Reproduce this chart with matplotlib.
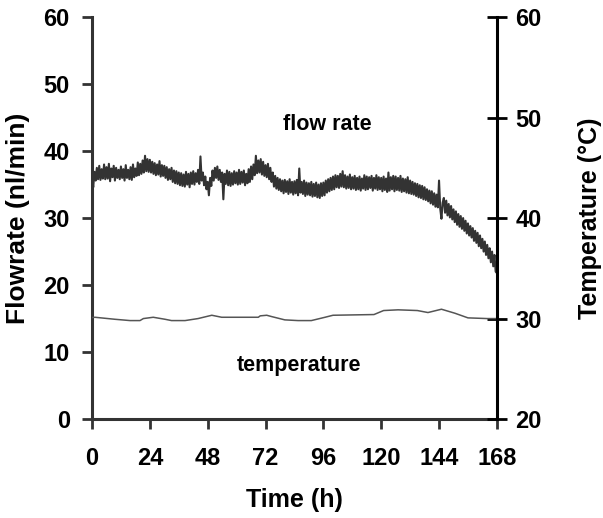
import numpy as np
import matplotlib

matplotlib.use("Agg")
import matplotlib.pyplot as plt

plt.rcParams["font.family"] = ["Liberation Sans", "DejaVu Sans"]
plt.rcParams["font.weight"] = "bold"

# flow rate (nl/min), one reading every 0.5 h from 0 to 168 h
FLOW = [
    36.2, 34.6, 36.9, 35.6, 37.5, 35.8, 37.8, 35.7, 37.3, 35.9, 38.0, 35.8,
    37.6, 35.9, 38.1, 35.5, 37.4, 36.1, 37.8, 35.6, 37.5, 36.0, 37.2, 35.8,
    37.7, 36.0, 37.3, 35.6, 37.9, 36.0, 37.2, 35.8, 37.6, 35.7, 38.0, 36.1,
    37.4, 36.3, 38.3, 36.4, 38.1, 36.6, 38.6, 36.8, 39.3, 37.0, 38.8, 36.9,
    38.7, 36.8, 38.4, 36.6, 38.2, 36.4, 38.0, 36.5, 38.5, 36.2, 37.9, 36.3,
    37.8, 36.0, 37.6, 35.7, 37.3, 35.8, 37.5, 35.4, 37.1, 35.2, 37.0, 35.1,
    36.8, 34.9, 36.7, 34.8, 36.5, 34.7, 36.9, 35.0, 36.6, 34.6, 36.8, 35.1,
    37.0, 35.0, 36.7, 35.4, 37.2, 35.1, 39.2, 35.6, 36.8, 34.9, 36.2, 34.3,
    35.4, 33.4, 36.0, 34.8, 37.1, 35.6, 37.5, 36.0, 37.7, 35.7, 37.2, 35.4,
    36.8, 32.8, 36.6, 35.1, 37.1, 34.9, 36.9, 34.8, 36.7, 35.0, 37.0, 35.2,
    36.8, 35.0, 37.2, 35.1, 36.9, 35.3, 37.1, 34.9, 36.6, 35.2, 37.3, 35.4,
    37.7, 35.8, 38.0, 36.4, 39.3, 36.7, 38.6, 36.8, 38.8, 36.5, 38.4, 36.3,
    37.9, 36.1, 38.1, 35.8, 37.5, 35.4, 36.8, 34.7, 36.3, 34.4, 36.0, 34.2,
    35.8, 34.0, 35.6, 33.7, 35.7, 33.9, 35.5, 33.6, 35.8, 33.8, 35.4, 33.5,
    35.5, 33.7, 35.7, 33.4, 37.4, 33.8, 35.4, 33.6, 35.6, 33.3, 35.3, 33.5,
    35.2, 33.4, 35.4, 33.2, 35.1, 33.3, 35.3, 33.1, 35.0, 33.0, 35.2, 33.3,
    35.3, 33.4, 35.6, 33.8, 35.8, 34.0, 36.0, 34.2, 36.2, 34.3, 36.4, 34.6,
    36.3, 34.5, 36.6, 34.7, 37.0, 34.6, 36.4, 34.4, 36.2, 34.5, 36.5, 34.3,
    36.1, 34.4, 36.3, 34.2, 36.0, 34.3, 36.2, 34.1, 35.9, 34.4, 36.4, 34.2,
    36.2, 34.3, 36.1, 34.5, 36.3, 34.1, 36.0, 34.4, 36.4, 34.2, 36.1, 34.3,
    36.0, 34.0, 36.2, 34.2, 35.9, 33.9, 36.8, 34.1, 36.1, 34.3, 36.3, 34.0,
    36.2, 34.2, 36.0, 34.1, 36.3, 33.9, 35.9, 34.0, 35.8, 33.8, 36.1, 33.7,
    35.6, 33.6, 35.4, 33.5, 35.2, 33.3, 35.1, 33.1, 34.9, 33.0, 34.8, 32.8,
    34.6, 32.7, 34.3, 32.5, 34.1, 32.2, 34.0, 32.0, 33.7, 31.7, 33.5, 31.6,
    35.6, 31.4, 29.9, 32.3, 33.0, 30.8, 32.6, 30.4, 32.1, 30.1, 31.8, 29.8,
    31.3, 29.4, 31.0, 29.0, 30.6, 28.7, 30.3, 28.4, 30.0, 28.1, 29.6, 27.7,
    29.2, 27.4, 28.8, 27.1, 28.5, 26.6, 28.1, 26.3, 27.8, 25.8, 27.4, 25.5,
    26.9, 25.0, 26.5, 24.5, 26.0, 24.0, 25.5, 23.4, 25.0, 22.8, 24.5, 22.0,
    21.8,
]
FLOW_STEP_H = 0.5

# temperature (°C)
TEMP_T = [0, 1.2, 9.5, 15.8, 19.9, 21.3, 25.4, 30.3, 33, 38.6, 44, 49.7, 53.8, 69,
          69.8, 72.5, 74.5, 80, 85.5, 91, 96.7, 100, 117, 121, 127, 135, 139.4,
          145, 150.6, 156, 164, 168]
TEMP_C = [30.1, 30.13, 29.93, 29.8, 29.8, 30.0, 30.13, 29.93, 29.8, 29.8, 30.0, 30.33,
          30.13, 30.13, 30.27, 30.33, 30.2, 29.87, 29.8, 29.8, 30.13, 30.33, 30.4, 30.8,
          30.87, 30.8, 30.6, 30.93, 30.53, 30.07, 30.0, 30.0]

X_TICKS = [0, 24, 48, 72, 96, 120, 144, 168]

fig = plt.figure(figsize=(6.03, 5.18), dpi=100)
ax = fig.add_axes([0.1526, 0.191, 0.824 - 0.1526, 0.967 - 0.191])
ax2 = ax.twinx()

flow_t = np.arange(len(FLOW)) * FLOW_STEP_H
ax.plot(flow_t, FLOW, color="#333333", lw=1.5)
ax2.plot(TEMP_T, TEMP_C, color="#555555", lw=1.1)

ax.set_xlim(0, 168)
ax.set_ylim(0, 60)
ax2.set_ylim(20, 60)
ax.set_xticks(X_TICKS)
ax.set_yticks(range(0, 61, 10))
ax2.set_yticks(range(20, 61, 10))

ax.spines["top"].set_visible(False)
ax2.spines["top"].set_visible(False)
for side in ("left", "bottom"):
    ax.spines[side].set_linewidth(2.2)
    ax.spines[side].set_color("#333333")
ax2.spines["right"].set_linewidth(2.2)
ax2.spines["right"].set_color("black")
ax2.spines["left"].set_visible(False)
ax2.spines["bottom"].set_visible(False)

ax.tick_params(axis="both", direction="out", length=7, width=2, color="#333333",
               labelsize=17)
ax.tick_params(axis="y", pad=9)
ax.tick_params(axis="x", pad=13)
ax2.tick_params(axis="y", direction="inout", length=15, width=2, color="black",
                labelsize=17, pad=6)
for lab in ax.get_xticklabels() + ax.get_yticklabels() + ax2.get_yticklabels():
    lab.set_fontweight("bold")

ax.set_xlabel("Time (h)", fontsize=18, fontweight="bold", labelpad=13)
ax.set_ylabel("Flowrate (nl/min)", fontsize=19, fontweight="bold", labelpad=10)
ax2.set_ylabel("Temperature (°C)", fontsize=18, fontweight="bold", labelpad=26)

ax.text(97.7, 44, "flow rate", ha="center", va="center", fontsize=15.5, fontweight="bold")
ax.text(86, 8, "temperature", ha="center", va="center", fontsize=15.5, fontweight="bold")

fig.savefig("out.png", dpi=100)
